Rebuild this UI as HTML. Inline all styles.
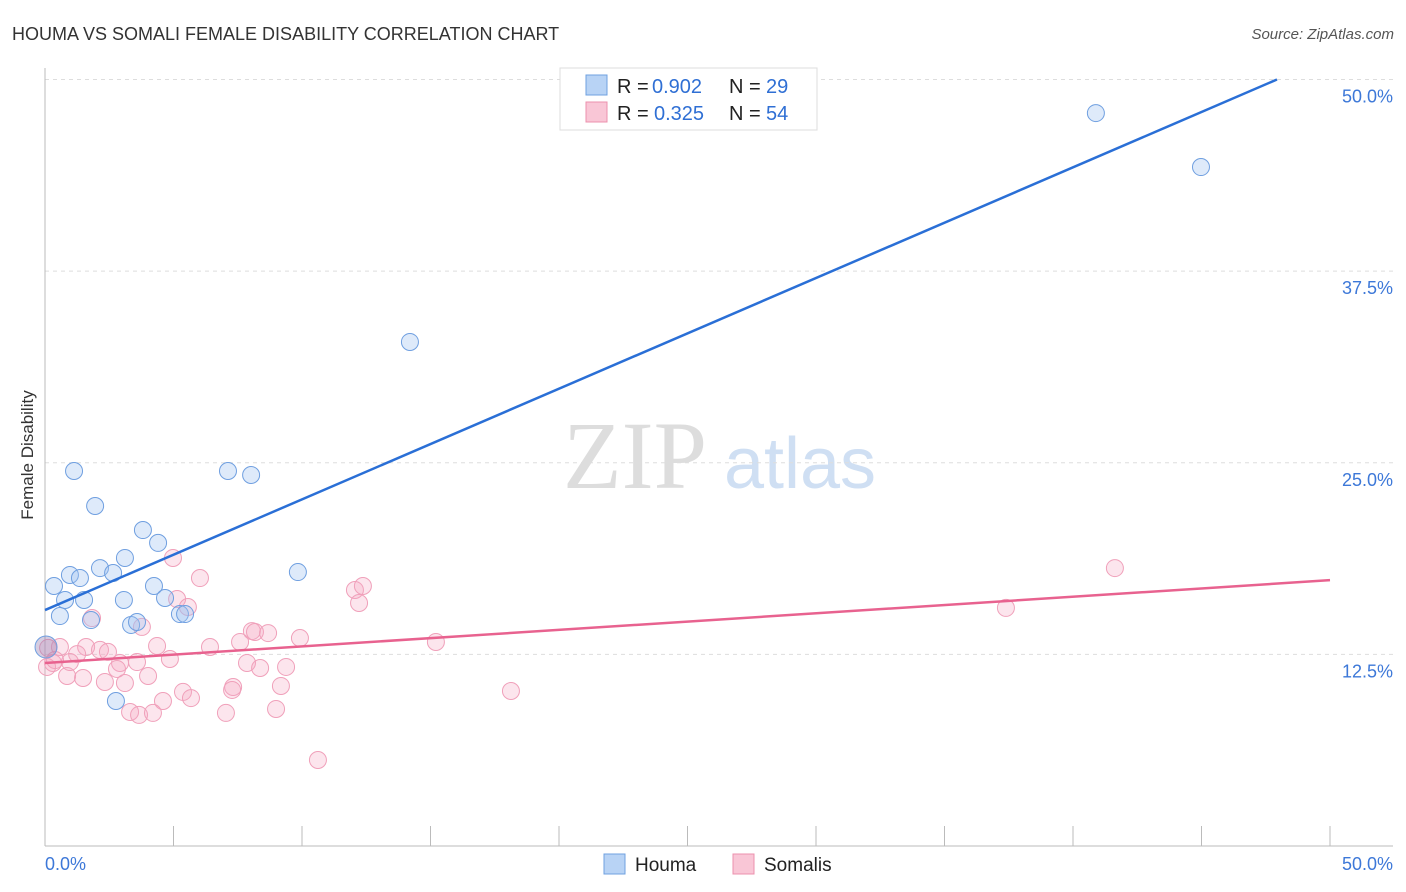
<!DOCTYPE html>
<html><head><meta charset="utf-8"><style>
body{margin:0;background:#fff;font-family:"Liberation Sans",sans-serif}
</style></head><body>
<svg id="c" width="1406" height="892" xmlns="http://www.w3.org/2000/svg" style="display:block">
<text x="12" y="40" font-size="18" fill="#333">HOUMA VS SOMALI FEMALE DISABILITY CORRELATION CHART</text>
<text x="1394" y="39" font-size="15" fill="#555" text-anchor="end" font-style="italic">Source: ZipAtlas.com</text>
<g>
<text x="635" y="488" font-size="96" font-family="Liberation Serif,serif" fill="#ddd" text-anchor="middle">ZIP</text>
<text x="800" y="488" font-size="72" fill="#cfdff3" text-anchor="middle">atlas</text>
</g>
<g id="grid"></g>
<g id="pts"></g>
<g id="lines"></g>
<text transform="translate(33,455) rotate(-90)" font-size="17" fill="#333" text-anchor="middle">Female Disability</text>
<g>
<rect x="560" y="68" width="257" height="62" fill="#fff" stroke="#ddd"/>
<rect x="586" y="75" width="21" height="20" fill="#b8d3f5" stroke="#6fa0e0"/>
<rect x="586" y="102" width="21" height="20" fill="#f9c6d6" stroke="#ec90ad"/>
<text x="617" y="93" font-size="20" fill="#222">R =</text>
<text x="652" y="93" font-size="20" fill="#2f6fd4">0.902</text>
<text x="729" y="93" font-size="20" fill="#222">N =</text>
<text x="766" y="93" font-size="20" fill="#2f6fd4">29</text>
<text x="617" y="120" font-size="20" fill="#222">R =</text>
<text x="654" y="120" font-size="20" fill="#2f6fd4">0.325</text>
<text x="729" y="120" font-size="20" fill="#222">N =</text>
<text x="766" y="120" font-size="20" fill="#2f6fd4">54</text>
</g>
<g>
<rect x="604" y="854" width="21" height="20" fill="#b8d3f5" stroke="#6fa0e0"/>
<text x="635" y="871" font-size="19" fill="#222">Houma</text>
<rect x="733" y="854" width="21" height="20" fill="#f9c6d6" stroke="#ec90ad"/>
<text x="764" y="871" font-size="19" fill="#222">Somalis</text>
</g>
</svg>
<script>
const yTicks=[12.5,25,37.5,50];
const yTickLabels=["12.5%","25.0%","37.5%","50.0%"];
const xTicks=[0,5,10,15,20,25,30,35,40,45,50];
const houmaX=[0.04,1.13,1.95,7.12,8.02,14.20,40.89,44.98,3.81,4.40,0.35,0.97,1.36,2.14,2.65,3.11,4.24,0.78,1.52,3.07,4.67,0.58,1.79,3.35,3.58,5.25,5.45,9.84,2.76];
const houmaY=[12.98,24.46,22.18,24.46,24.20,32.88,47.81,44.29,20.61,19.77,16.96,17.68,17.48,18.13,17.81,18.79,16.96,16.05,16.05,16.05,16.18,15.00,14.74,14.42,14.61,15.13,15.13,17.87,9.46];
const somaliX=[4.98,6.03,5.14,5.56,1.83,3.77,4.36,1.60,2.14,2.45,1.25,0.58,2.92,3.58,4.86,2.80,0.86,1.48,2.33,3.11,4.01,6.42,7.59,8.05,8.17,8.68,9.92,7.86,8.37,9.38,7.32,7.28,9.18,5.37,5.68,4.59,3.31,3.66,4.20,7.04,8.99,10.62,12.06,12.37,12.22,0.12,0.31,0.08,15.21,18.13,37.39,41.63,0.39,0.97];
const somaliY=[18.79,17.48,16.11,15.59,14.87,14.29,13.05,12.98,12.79,12.66,12.52,12.98,11.94,12.00,12.20,11.55,11.09,10.96,10.70,10.63,11.09,12.98,13.31,14.02,13.96,13.89,13.57,11.94,11.61,11.68,10.37,10.18,10.44,10.05,9.65,9.46,8.74,8.55,8.68,8.68,8.94,5.61,16.70,16.96,15.85,12.92,11.94,11.68,13.31,10.11,15.53,18.13,12.13,12.00];
const houmaTrend=[15.39,0.722];
const somaliTrend=[11.94,0.108];
const NS="http://www.w3.org/2000/svg";
const X=v=>45+v*25.7, Y=v=>846-v*15.33;
function mk(t,a,p){const e=document.createElementNS(NS,t);for(const k in a)e.setAttribute(k,a[k]);p.appendChild(e);return e;}
const svg=document.getElementById('c'),grid=document.getElementById('grid');
yTicks.forEach((t,i)=>{
 const l=mk('line',{x1:45,x2:1393,y1:Y(t),y2:Y(t),stroke:'#ddd','stroke-dasharray':'4,4'},grid);
 
 
 const tx=mk('text',{x:1393,y:Y(t)+23,'font-size':18,fill:'#3d78d8','text-anchor':'end'},grid);
 tx.textContent=yTickLabels[i];
 
 
});
let a=mk('line',{x1:45,x2:45,y1:68,y2:846,stroke:'#bbb'},grid);


a=mk('line',{x1:45,x2:1393,y1:846,y2:846,stroke:'#bbb'},grid);


xTicks.forEach(t=>{
 const l=mk('line',{x1:X(t),x2:X(t),y1:826,y2:846,stroke:'#bbb'},grid);
 
 
});
[[0,'0.0%','start',45],[50,'50.0%','end',1393]].forEach(d=>{
 const tx=mk('text',{x:d[3],y:870,'font-size':18,fill:'#3d78d8','text-anchor':d[2]},grid);
 tx.textContent=d[1];
 
 
});
const pts=document.getElementById('pts');
somaliX.forEach((x,i)=>{
 const c=mk('circle',{cx:X(x),cy:Y(somaliY[i]),r:8.5,fill:'rgba(245,170,195,0.3)',stroke:'#f0a0ba','stroke-width':1},pts);
 
 
});
houmaX.forEach((x,i)=>{
 const c=mk('circle',{cx:X(x),cy:Y(houmaY[i]),r:i==0?11:8.5,fill:i==0?'rgba(150,130,180,0.4)':'rgba(160,195,240,0.35)',stroke:'#6f9fe0','stroke-width':1},pts);
 
 
});
const lines=document.getElementById('lines');
const hx2=(50-houmaTrend[0])/houmaTrend[1];
let tl=mk('line',{x1:X(0),y1:Y(houmaTrend[0]),x2:X(hx2),y2:Y(50),stroke:'#2a6fd6','stroke-width':2.5},lines);


tl=mk('line',{x1:X(0),y1:Y(somaliTrend[0]),x2:X(50),y2:Y(somaliTrend[0]+50*somaliTrend[1]),stroke:'#e8628f','stroke-width':2.5},lines);


</script>
</body></html>
